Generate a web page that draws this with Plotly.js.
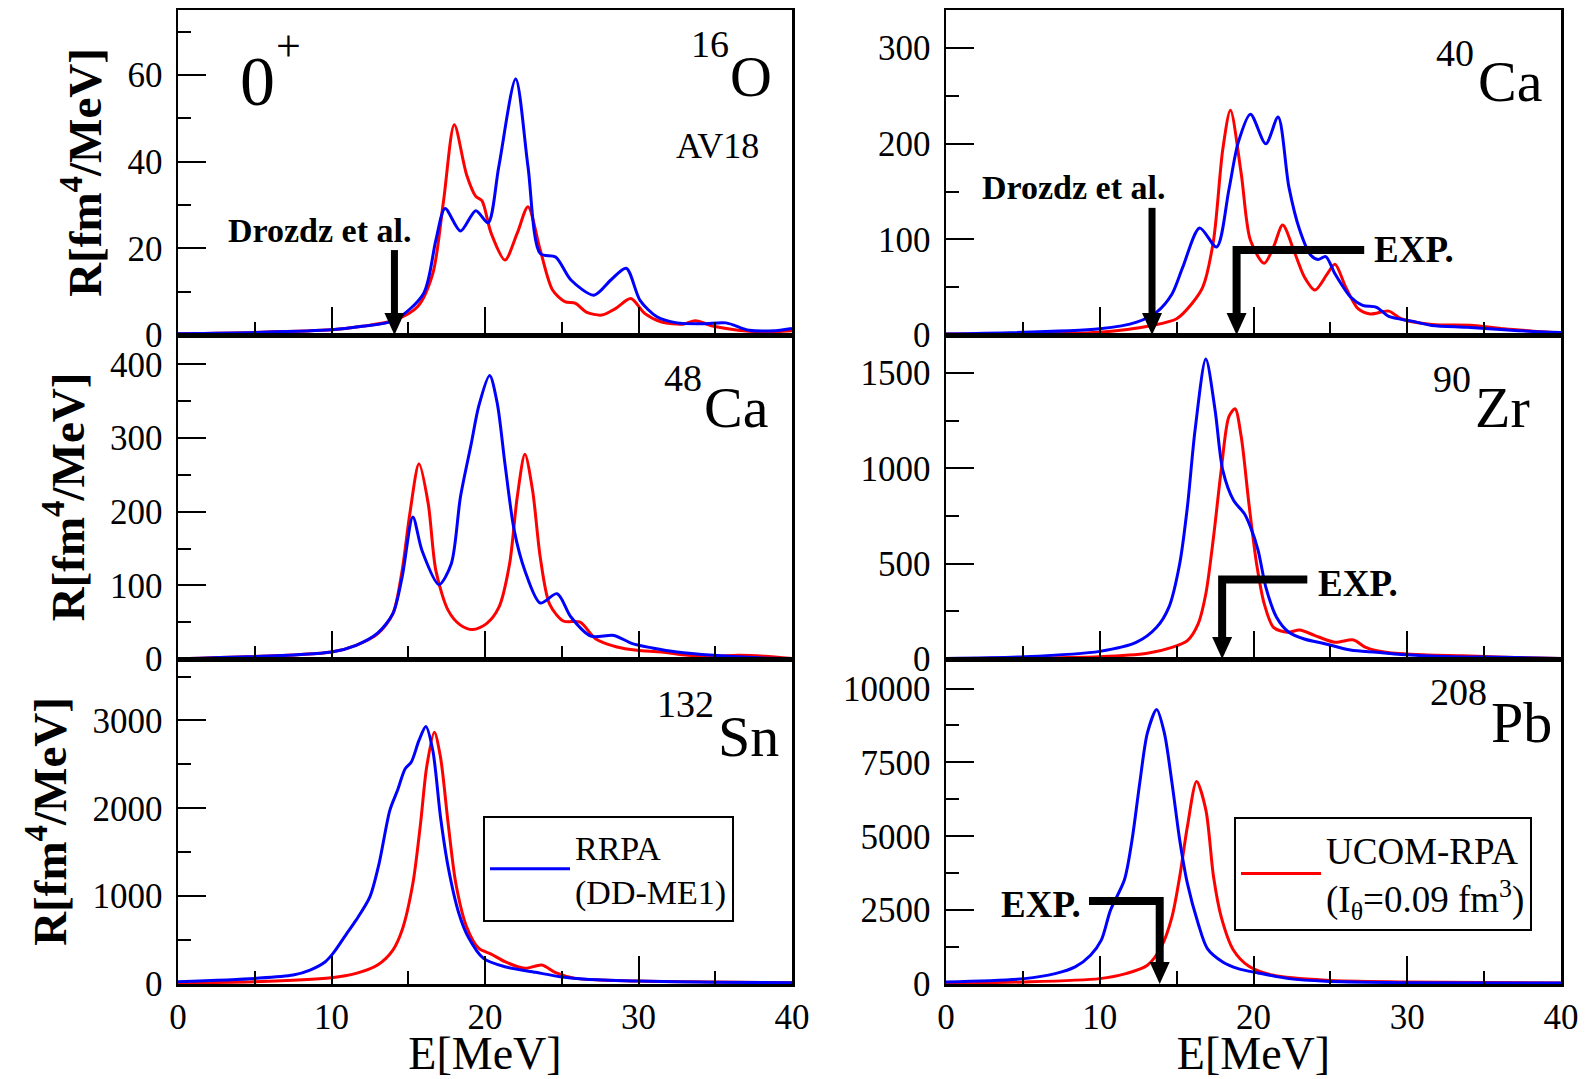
<!DOCTYPE html>
<html><head><meta charset="utf-8">
<script src="https://cdn.plot.ly/plotly-3.0.1.min.js"></script>
<style>html,body{margin:0;padding:0;background:#fff}#chart{width:1587px;height:1079px}</style>
</head><body><div id="chart"></div>
<script>
// ---------- DATA ----------
// 16O
const o16_E_ucom = [0, 5, 10, 12, 14.1, 15.6, 16.6, 17.3, 18.0, 18.8, 19.4, 19.8, 20.4, 21.3, 22.1, 22.8, 23.6, 24.4, 25.2, 25.9, 26.6, 27.6, 28.5, 29.5, 30.4, 31.5, 32.9, 33.7, 34.9, 36.5, 38.2, 40];
const o16_R_ucom = [0.3, 0.6, 1.2, 2, 3.4, 6.5, 14.2, 31, 48.5, 37, 32, 31, 23.5, 17.3, 23.5, 29.6, 19.6, 10.4, 7.7, 7.3, 5.3, 4.6, 6.1, 8.4, 5, 3, 2.5, 3.3, 2, 1.1, 0.7, 1];
const o16_E_rrpa = [0, 5, 10, 12, 14.1, 16, 16.8, 17.4, 18.4, 19.4, 20.2, 20.9, 22.0, 22.8, 23.6, 24.6, 25.6, 27.1, 28.2, 29.2, 30.1, 31.2, 32.5, 34.2, 35.7, 37.2, 38.9, 40];
const o16_R_rrpa = [0.3, 0.6, 1.2, 2, 3.4, 9.6, 21.9, 29.2, 24, 28.7, 25.9, 38.9, 59.1, 38.9, 18.8, 18, 12.7, 9.2, 12.7, 15.4, 8, 4.2, 2.8, 2.6, 2.8, 1.1, 1, 1.5];
// 40Ca
const ca40_E_ucom = [0, 10, 13.4, 15, 16, 16.7, 17.4, 18.0, 18.5, 19.2, 19.8, 20.7, 21.3, 21.9, 22.7, 23.3, 24.0, 24.8, 25.3, 26.0, 26.8, 27.6, 28.8, 29.6, 31.6, 34.3, 36.3, 38.2, 40];
const ca40_R_ucom = [1, 3, 10, 17, 33, 50, 99, 194, 235, 169, 99, 75, 92, 115, 85, 61, 47, 64, 74, 50, 27.5, 22, 25, 17, 11, 10, 6.5, 4, 2];
const ca40_E_rrpa = [0, 10, 12.4, 13.7, 14.7, 15.4, 16.5, 17.6, 18.4, 19.0, 19.8, 20.8, 21.6, 22.3, 23.0, 23.7, 24.2, 24.7, 25.3, 26.3, 27.1, 28.0, 28.8, 30.3, 31.6, 33.9, 36.3, 38.2, 40];
const ca40_R_rrpa = [1, 6.5, 13.5, 24, 43, 71, 112, 92, 152, 201, 231, 200, 228, 155, 110, 84, 79, 82, 64, 40, 31, 29, 19.4, 14.5, 10, 8, 5.4, 3.7, 2.6];
// 48Ca
const ca48_E_ucom = [0, 10, 11.6, 13, 14, 14.6, 15.1, 15.7, 16.3, 16.8, 17.6, 18.4, 19.2, 20.1, 20.9, 21.6, 22.1, 22.6, 23.1, 23.6, 24.2, 25.1, 26.2, 27.2, 28.6, 29.9, 31.5, 33.2, 34.9, 36.5, 38.2, 40];
const ca48_R_ucom = [0.5, 9.5, 18.6, 34, 61.6, 120, 197, 265, 211, 120, 66, 46, 40, 48, 70, 129, 220, 278, 229, 138, 75, 51.6, 50, 27.6, 16.3, 11.8, 9.5, 5, 3.7, 5, 3.7, 0.5];
const ca48_E_rrpa = [0, 10, 11.6, 13, 14, 14.6, 15.3, 15.9, 17.0, 17.8, 18.4, 19.1, 19.6, 20.3, 20.8, 21.3, 21.9, 22.6, 23.6, 24.7, 25.6, 26.9, 28.4, 29.6, 30.9, 32.5, 34.9, 37.5, 40];
const ca48_R_rrpa = [0.5, 9.5, 18.6, 35, 61.6, 111, 193, 147, 101, 129, 220, 292, 344, 385, 347, 265, 175, 120, 76, 88.7, 57, 31, 32, 20.8, 15, 9.5, 5, 1.9, 0.5];
// 90Zr
const zr90_E_ucom = [0, 10, 13.1, 14.7, 15.7, 16.4, 16.9, 17.4, 17.9, 18.4, 18.8, 19.2, 19.7, 20.2, 20.7, 21.3, 22.2, 23.0, 24, 25.3, 26.5, 27.3, 28.6, 31.3, 33.6, 36.3, 40];
const zr90_R_ucom = [2, 12, 30, 61, 96, 184, 342, 640, 991, 1272, 1313, 1167, 816, 500, 289, 166, 140, 152, 123, 88, 100, 61, 35, 21, 17, 9, 2];
const zr90_E_rrpa = [0, 5.1, 10, 12.4, 13.7, 14.5, 15.2, 15.7, 16.2, 16.9, 17.5, 18.0, 18.7, 19.4, 19.8, 20.3, 20.8, 21.5, 22.3, 23.3, 24.7, 26.3, 28, 29.6, 32.9, 36.3, 40];
const zr90_R_rrpa = [3, 12, 40, 88, 166, 272, 500, 798, 1202, 1574, 1307, 991, 833, 763, 693, 570, 377, 219, 140, 105, 79, 47, 35, 23, 12, 9, 3];
// 132Sn
const sn132_E_ucom = [0, 5, 10, 11.6, 13, 14, 14.6, 15.3, 15.8, 16.2, 16.7, 17.1, 17.6, 18.1, 18.8, 19.6, 20.4, 21.3, 22.6, 23.7, 24.6, 25.9, 29.9, 34.9, 40];
const sn132_R_ucom = [15, 26, 72, 121, 216, 386, 614, 1144, 1826, 2470, 2867, 2583, 1826, 1144, 652, 405, 341, 254, 178, 216, 129, 64, 34, 23, 15];
const sn132_E_rrpa = [0, 5, 7.5, 8.6, 9.6, 10.1, 11, 11.6, 12.5, 13.1, 13.8, 14.3, 14.8, 15.2, 15.7, 16.15, 16.6, 17.1, 17.6, 18.3, 18.9, 19.9, 21.3, 23.3, 24.9, 26.6, 29.9, 34.9, 40];
const sn132_R_rrpa = [26, 64, 102, 159, 254, 348, 576, 727, 992, 1371, 1977, 2205, 2451, 2527, 2773, 2932, 2659, 1902, 1333, 803, 538, 292, 197, 133, 83, 53, 34, 19, 15];
// 208Pb
const pb208_E_ucom = [0, 5.1, 10, 11.7, 13.1, 14.0, 14.7, 15.2, 15.7, 16.3, 16.9, 17.4, 17.9, 18.7, 19.7, 21.3, 24.7, 29.6, 40];
const pb208_R_ucom = [35, 69, 182, 352, 635, 1257, 2275, 3632, 5329, 6856, 5895, 3632, 2275, 1143, 601, 295, 126, 69, 35];
const pb208_E_rrpa = [0, 5.1, 7.1, 8.4, 9.4, 10.1, 10.7, 11.6, 12.1, 12.6, 13.1, 13.7, 14.2, 14.7, 15.2, 15.7, 16.4, 17.0, 18, 19, 20.3, 22.3, 24.7, 29.6, 40];
const pb208_R_rrpa = [69, 182, 352, 578, 974, 1483, 2501, 3519, 4876, 6800, 8497, 9288, 8497, 6800, 4876, 3406, 2049, 1200, 748, 522, 374, 182, 92, 46, 35];

// axis ranges / ticks per panel (order: 16O, 40Ca, 48Ca, 90Zr, 132Sn, 208Pb)
const yMax   = [75, 340, 440, 1700, 3700, 11000];
const yDtick = [20, 100, 100, 500, 1000, 2500];
const nuclei_mass = ['16', '40', '48', '90', '132', '208'];
const nuclei_sym  = ['O', 'Ca', 'Ca', 'Zr', 'Sn', 'Pb'];
const legendNames = ['RRPA<br>(DD-ME1)', 'UCOM-RPA<br>(I<sub>θ</sub>=0.09 fm<sup>3</sup>)'];
const xTitle = 'E[MeV]';
const yTitle = 'R[fm<sup>4</sup>/MeV]';

// experimental / Drozdz markers: [panel, E position, height]
const drozdz = [[0, 14.1, 19.6], [1, 13.4, 133]];
const expMarks = [[1, 18.9, 27.2, 89], [3, 17.96, 23.5, 417], [5, 13.9, 9.3, 2806]];

// ---------- STYLE ----------
const W = 1587, H = 1079;
const FONT = 'Liberation Serif, Times New Roman, serif';
const BLUE = '#0000ff', RED = '#ff0000';
const colX = [[178, 792], [946, 1561]];
const rowY = [[10, 335], [335, 659], [659, 984]];
const px = x => x / W, py = y => 1 - y / H;

const sets = [
  [o16_E_ucom, o16_R_ucom, o16_E_rrpa, o16_R_rrpa],
  [ca40_E_ucom, ca40_R_ucom, ca40_E_rrpa, ca40_R_rrpa],
  [ca48_E_ucom, ca48_R_ucom, ca48_E_rrpa, ca48_R_rrpa],
  [zr90_E_ucom, zr90_R_ucom, zr90_E_rrpa, zr90_R_rrpa],
  [sn132_E_ucom, sn132_R_ucom, sn132_E_rrpa, sn132_R_rrpa],
  [pb208_E_ucom, pb208_R_ucom, pb208_E_rrpa, pb208_R_rrpa]
];

const traces = [];
const layout = {
  width: W, height: H, margin: {l: 0, r: 0, t: 0, b: 0},
  paper_bgcolor: '#fff', plot_bgcolor: '#fff',
  font: {family: FONT, color: '#000', size: 35},
  showlegend: true,
  annotations: [], shapes: []
};

sets.forEach((s, i) => {
  const n = i + 1, sfx = n === 1 ? '' : String(n);
  const col = i % 2, row = Math.floor(i / 2);
  const xa = 'x' + sfx, ya = 'y' + sfx;
  traces.push({x: s[0], y: s[1], xaxis: xa, yaxis: ya, type: 'scatter', mode: 'lines',
    line: {color: RED, width: 3, shape: 'spline', smoothing: 0.8},
    name: legendNames[1], showlegend: i === 5, legend: 'legend2', hoverinfo: 'skip'});
  traces.push({x: s[2], y: s[3], xaxis: xa, yaxis: ya, type: 'scatter', mode: 'lines',
    line: {color: BLUE, width: 3, shape: 'spline', smoothing: 0.8},
    name: legendNames[0], showlegend: i === 4, legend: 'legend', hoverinfo: 'skip'});
  const common = {showline: true, mirror: true, linecolor: '#000', linewidth: 2.5,
    showgrid: false, zeroline: false, ticks: 'inside', tickcolor: '#000', tickwidth: 2, ticklen: 28,
    tickfont: {size: 35, family: FONT}, tickformat: 'd', exponentformat: 'none'};
  layout['xaxis' + sfx] = Object.assign({}, common, {
    domain: [px(colX[col][0]), px(colX[col][1])], anchor: ya, range: [0, 40],
    tick0: 0, dtick: 10, minor: {dtick: 5, ticks: 'inside', ticklen: 13, tickwidth: 2, tickcolor: '#000', showgrid: false},
    showticklabels: row === 2, ticklabelstandoff: 0,
    title: row === 2 ? {text: xTitle, font: {size: 46, family: FONT}, standoff: 13} : undefined
  });
  layout['yaxis' + sfx] = Object.assign({}, common, {
    domain: [py(rowY[row][1]), py(rowY[row][0])], anchor: xa, range: [0, yMax[i]],
    tick0: 0, dtick: yDtick[i], minor: {dtick: yDtick[i] / 2, ticks: 'inside', ticklen: 13, tickwidth: 2, tickcolor: '#000', showgrid: false},
    ticklabelstandoff: 6,
    title: col === 0 ? {text: yTitle, font: {size: 47, family: FONT, weight: 'bold'}, standoff: 11} : undefined
  });
});

layout.legend = {x: px(483), y: py(816), xanchor: 'left', yanchor: 'top', bgcolor: '#fff',
  bordercolor: '#000', borderwidth: 2, font: {size: 34, family: FONT}, itemwidth: 80};
layout.legend2 = {x: px(1234), y: py(817), xanchor: 'left', yanchor: 'top', bgcolor: '#fff',
  bordercolor: '#000', borderwidth: 2, font: {size: 37, family: FONT}, itemwidth: 80};

// text labels (pixel placement)
const A = layout.annotations;
function txt(t, x, y, size, extra) {
  A.push(Object.assign({text: t, xref: 'paper', yref: 'paper', x: px(x), y: py(y),
    xanchor: 'center', yanchor: 'middle', showarrow: false, font: {size: size, family: FONT, color: '#000'}}, extra || {}));
}
txt('0', 257, 81, 70);
txt('+', 288, 47, 44);
const massPos = [[710, 44], [1455, 53], [683, 378], [1452, 379], [685, 704], [1458, 692]];
const symPos  = [[751, 77], [1510, 81], [736, 408], [1502, 408], [748, 736], [1521, 722]];
nuclei_mass.forEach((m, i) => { txt(m, massPos[i][0], massPos[i][1], 38); txt(nuclei_sym[i], symPos[i][0], symPos[i][1], 58); });
txt('AV18', 717, 146, 36);
txt('<b>Drozdz et al.</b>', 319, 231, 34);
txt('<b>Drozdz et al.</b>', 1073, 188, 34);
txt('<b>EXP.</b>', 1414, 249, 37);
txt('<b>EXP.</b>', 1358, 583, 37);
txt('<b>EXP.</b>', 1041, 904, 37);

// arrows
const S = layout.shapes;
const panelPx = 325;
function arrowHead(i, xv) {
  const sfx = i === 0 ? '' : String(i + 1);
  S.push({type: 'path', xref: 'x' + sfx, yref: 'y' + sfx, xsizemode: 'pixel', ysizemode: 'pixel',
    xanchor: xv, yanchor: 0, path: 'M-10,22 L10,22 L0,0 Z', fillcolor: '#000', line: {width: 0}});
}
drozdz.forEach(([i, xv, top]) => {
  const sfx = i === 0 ? '' : String(i + 1);
  const stop = yMax[i] * 20 / panelPx;
  S.push({type: 'line', xref: 'x' + sfx, yref: 'y' + sfx, x0: xv, x1: xv, y0: top, y1: stop, line: {color: '#000', width: 7}});
  arrowHead(i, xv);
});
expMarks.forEach(([i, xv, xh, yv]) => {
  const sfx = i === 0 ? '' : String(i + 1);
  const stop = yMax[i] * 20 / panelPx;
  S.push({type: 'path', xref: 'x' + sfx, yref: 'y' + sfx,
    path: `M${xh},${yv} L${xv},${yv} L${xv},${stop}`, line: {color: '#000', width: 8}});
  arrowHead(i, xv);
});

Plotly.newPlot('chart', traces, layout, {staticPlot: true, displayModeBar: false});
</script></body></html>
